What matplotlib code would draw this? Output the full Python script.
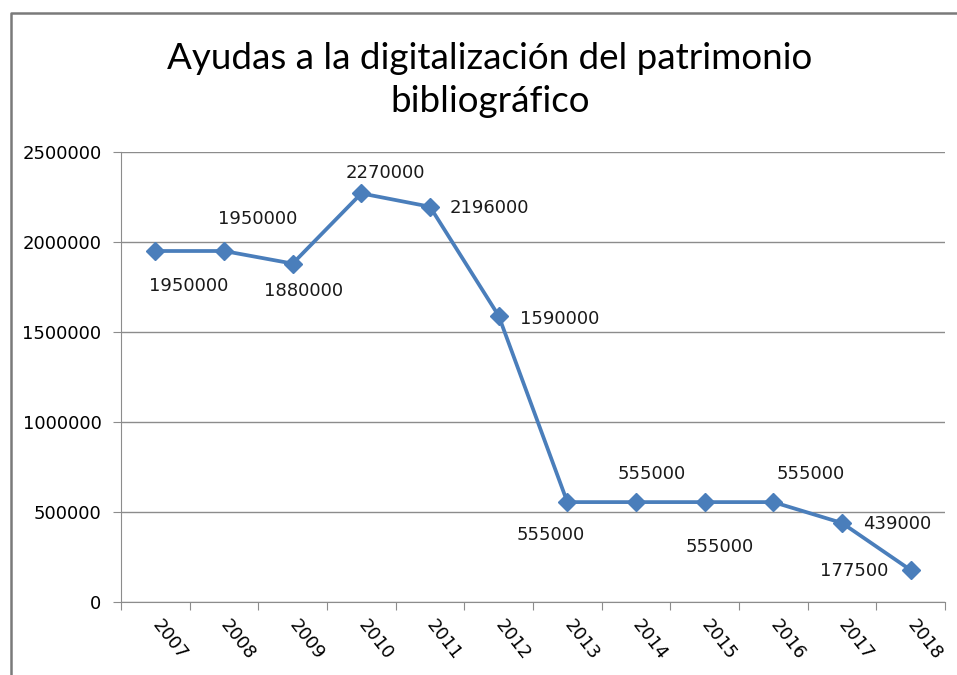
import matplotlib.pyplot as plt
from matplotlib.lines import Line2D

# datos
anios = ["2007", "2008", "2009", "2010", "2011", "2012",
         "2013", "2014", "2015", "2016", "2017", "2018"]
importes = [1950000, 1950000, 1880000, 2270000, 2196000, 1590000,
            555000, 555000, 555000, 555000, 439000, 177500]
titulo = "Ayudas a la digitalización del patrimonio\nbibliográfico"

# posicion de cada etiqueta (puntos de desplazamiento, alineacion)
pos_etiquetas = [
    (24, -25, "center"), (24, 23, "center"), (8, -20, "center"),
    (17, 15, "center"), (14, -1, "left"), (15, -2, "left"),
    (-12, -24, "center"), (11, 20, "center"), (11, -32, "center"),
    (27, 20, "center"), (15, -1, "left"), (-16, -1, "right"),
]

fig = plt.figure(figsize=(9.57, 6.75), dpi=100)
ax = fig.add_axes([121/957, 1 - 602/675, 824/957, 450/675])

x = list(range(len(anios)))
ax.plot(x, importes, color="#4A7EBB", lw=2.7, marker="D", markersize=9.5,
        markeredgecolor="#4A7EBB", zorder=3)

for xi, yi, (dx, dy, ha) in zip(x, importes, pos_etiquetas):
    ax.annotate(str(yi), (xi, yi), xytext=(dx, dy), textcoords="offset points",
                ha=ha, va="center", fontsize=13, color="#1a1a1a")

ax.set_xlim(-0.5, len(anios) - 0.5)
ax.set_ylim(0, 2500000)
ax.set_yticks(range(0, 2500001, 500000))
ax.set_yticklabels([str(v) for v in range(0, 2500001, 500000)])
ax.yaxis.grid(True, color="#8c8c8c", lw=1)
ax.set_axisbelow(True)

ax.set_xticks([i - 0.5 for i in range(len(anios) + 1)], minor=False)
ax.set_xticklabels([""] * (len(anios) + 1))
ax.set_xticks(x, minor=True)
ax.set_xticklabels(anios, minor=True, rotation=-52, ha="left", va="center",
                   rotation_mode="anchor")
ax.tick_params(axis="x", which="minor", length=0, pad=14, labelsize=13)
ax.tick_params(axis="x", which="major", length=6, color="#8c8c8c")
ax.tick_params(axis="y", length=6, color="#8c8c8c", pad=8, labelsize=13)

for s in ["top", "right"]:
    ax.spines[s].set_visible(False)
for s in ["left", "bottom"]:
    ax.spines[s].set_color("#8c8c8c")

# marco del grafico
fig.add_artist(Line2D([11/957, 11/957, 1], [0, 1 - 13/675, 1 - 13/675],
                      transform=fig.transFigure, color="#7a7a7a", lw=1.8))

fig.text(0.512, 1 - 80/675, titulo, ha="center", va="center",
         fontsize=26.5, family="Lato", linespacing=1.4)

plt.savefig("out.png", dpi=100)
